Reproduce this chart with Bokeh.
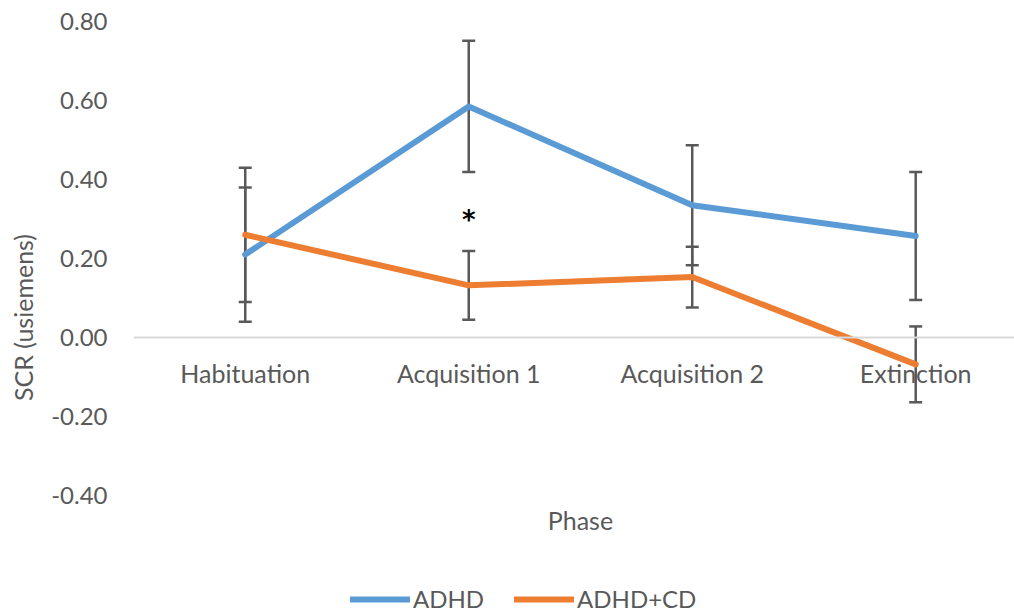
from bokeh.plotting import figure
from bokeh.models import (ColumnDataSource, Whisker, TeeHead, Span, Legend, LegendItem,
                          NumeralTickFormatter, FixedTicker, Range1d, Label)
from bokeh.core.properties import value
from bokeh.embed import file_html
from bokeh.resources import INLINE

categories = ["Habituation", "Acquisition 1", "Acquisition 2", "Extinction"]
adhd = [0.21, 0.585, 0.335, 0.257]
adhd_err = [0.17, 0.166, 0.152, 0.162]
adhd_cd = [0.26, 0.132, 0.153, -0.068]
adhd_cd_err = [0.17, 0.087, 0.077, 0.096]
y_ticks = [-0.4, -0.2, 0.0, 0.2, 0.4, 0.6, 0.8]
annot_text = ["*"]
annot_x = [1]
annot_y = [0.32]

FONT = "Lato"
GREY = "#595959"
BLUE = "#5B9BD5"
ORANGE = "#ED7D31"

idx = list(range(len(categories)))

# frame spans the whole height below the top; the value axis runs -0.40..0.80 in its upper part
PX_PER_UNIT = 474.0 / 1.2
y_bottom = -0.4 - 118.0 / PX_PER_UNIT

p = figure(width=1014, height=613, output_backend="svg", toolbar_location=None,
           x_range=Range1d(-0.5, 3.442), y_range=Range1d(y_bottom, 0.8),
           x_axis_location=None,
           min_border_left=133, min_border_right=0, min_border_top=21, min_border_bottom=0)
p.outline_line_alpha = 0
p.xgrid.visible = False
p.ygrid.visible = False

# zero line
p.add_layout(Span(location=0, dimension="width", line_color="#D9D9D9", line_width=2))

# category labels at the zero line
p.text(x=idx, y=[0] * len(idx), text=categories, y_offset=35,
       text_align="center", text_baseline="middle",
       text_font=value(FONT), text_font_size="25px", text_color=GREY)

def add_series(vals, errs, color):
    src = ColumnDataSource(dict(x=idx, y=vals,
                                lo=[v - e for v, e in zip(vals, errs)],
                                hi=[v + e for v, e in zip(vals, errs)]))
    r = p.line("x", "y", source=src, line_color=color, line_width=6,
               line_join="round", line_cap="round")
    w = Whisker(base="x", upper="hi", lower="lo", source=src, dimension="height",
                line_color=GREY, line_width=2.5,
                upper_head=TeeHead(size=13, line_color=GREY, line_width=2.5),
                lower_head=TeeHead(size=13, line_color=GREY, line_width=2.5))
    p.add_layout(w)
    return r

r1 = add_series(adhd, adhd_err, BLUE)
r2 = add_series(adhd_cd, adhd_cd_err, ORANGE)

p.text(x=annot_x, y=annot_y, text=annot_text, y_offset=9,
       text_align="center", text_baseline="middle",
       text_font=value("DejaVu Sans"), text_font_size="26px", text_font_style="bold",
       text_color="black")

# y axis
p.yaxis.ticker = FixedTicker(ticks=y_ticks)
p.yaxis.formatter = NumeralTickFormatter(format="0.00")
p.yaxis.axis_line_alpha = 0
p.yaxis.major_tick_out = 0
p.yaxis.major_tick_in = 0
p.yaxis.minor_tick_out = 0
p.yaxis.minor_tick_in = 0
p.yaxis.major_label_standoff = 26
p.yaxis.major_label_text_font = FONT
p.yaxis.major_label_text_font_size = "24px"
p.yaxis.major_label_text_color = GREY
p.yaxis.axis_label = "SCR (usiemens)"
p.yaxis.axis_label_text_font = FONT
p.yaxis.axis_label_text_font_size = "25px"
p.yaxis.axis_label_text_font_style = "normal"
p.yaxis.axis_label_text_color = GREY
p.yaxis.axis_label_standoff = 10

# x axis title
p.add_layout(Label(x=1.5, y=-0.4, y_offset=-24, text="Phase",
                   text_align="center", text_baseline="middle",
                   text_font=FONT, text_font_size="25px", text_color=GREY))

legend = Legend(items=[LegendItem(label="ADHD", renderers=[r1]),
                       LegendItem(label="ADHD+CD", renderers=[r2])],
                orientation="horizontal", location=(217, 0),
                glyph_width=60, glyph_height=20, label_standoff=3, spacing=30,
                label_text_font=FONT, label_text_font_size="24px", label_text_color=GREY,
                padding=0, margin=0, border_line_alpha=0, background_fill_alpha=0)
p.add_layout(legend, "center")

open("out.html", "w").write(file_html(p, INLINE))
